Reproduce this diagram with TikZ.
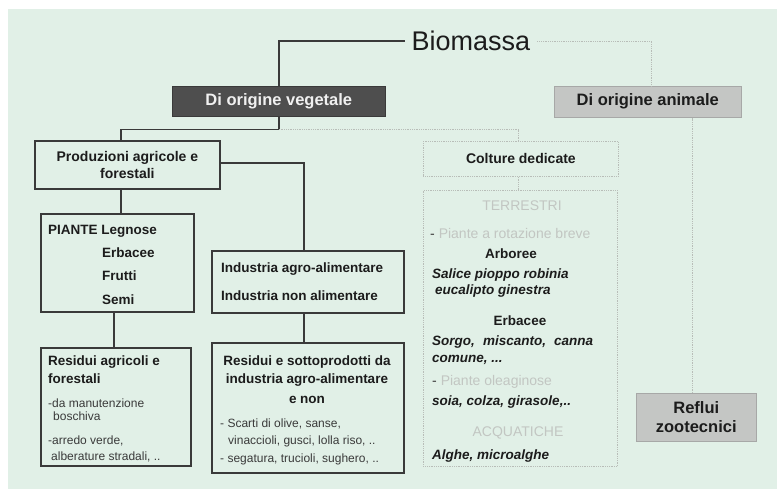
\documentclass[tikz,border=0pt]{standalone}
\usepackage{fontspec}
\setmainfont{Liberation Sans}
\usetikzlibrary{calc}
\definecolor{bg}{HTML}{E1F0E7}
\definecolor{darkfill}{HTML}{4E4E4E}
\definecolor{lightfill}{HTML}{C4C6C4}
\definecolor{linec}{HTML}{3A3A3A}
\definecolor{faint}{HTML}{C2C6C2}
\definecolor{faintline}{HTML}{B8BDB8}
\definecolor{textc}{HTML}{1C1C1C}
\definecolor{smallc}{HTML}{3A3A3A}
\begin{document}
\begin{tikzpicture}[x=1pt,y=-1pt,
  darkline/.style={draw=linec,line width=1.5pt},
  faintl/.style={draw=faintline,line width=0.8pt,densely dotted},
  sbox/.style={draw=linec,line width=1.8pt,inner sep=0pt,anchor=north west},
  fbox/.style={faintl,inner sep=0pt,anchor=north west},
  hb/.style={font=\fontsize{16.5}{19}\selectfont\bfseries},
  mb/.style={font=\fontsize{13.5}{17}\selectfont\bfseries,text=textc,inner sep=0pt},
  sm/.style={font=\fontsize{12}{14}\selectfont,text=smallc,inner sep=0pt,anchor=mid west},
  bi/.style={font=\fontsize{13.5}{17}\selectfont\bfseries\itshape,text=textc,inner sep=0pt,anchor=mid west},
  lt/.style={font=\fontsize{14}{16}\selectfont,text=faint,inner sep=0pt},
]
\useasboundingbox (0,0) rectangle (777,491);
\fill[white] (0,0) rectangle (777,491);
\fill[bg] (8,9) rectangle (777,489);

% title
\node[font=\fontsize{27}{30}\selectfont,text=textc,inner sep=7pt,anchor=mid] (bio) at (471,48) {Biomassa};

% boxes
\node[anchor=north west,fill=darkfill,draw=linec,line width=0.6pt,minimum width=213pt,minimum height=30pt,inner sep=0pt,hb,text=white!94!black] (veg) at (172,86) {Di origine vegetale};
\node[anchor=north west,fill=lightfill,draw=lightfill!85!black,line width=0.5pt,minimum width=187pt,minimum height=31pt,inner sep=0pt,hb,text=textc] (ani) at (554,86) {Di origine animale};
\node[sbox,minimum width=185pt,minimum height=48pt,align=center,font=\fontsize{14}{17}\selectfont\bfseries,text=textc] (prod) at (34,140) {Produzioni agricole e\\forestali};
\node[sbox,minimum width=153pt,minimum height=98pt] (piante) at (40,213) {};
\node[sbox,minimum width=150pt,minimum height=118pt] (resA) at (40,347) {};
\node[sbox,minimum width=192pt,minimum height=62pt] (ind) at (211,250) {};
\node[sbox,minimum width=192pt,minimum height=130pt] (res2) at (211,342) {};
\node[fbox,minimum width=195pt,minimum height=35pt,font=\fontsize{14}{17}\selectfont\bfseries,text=textc] (col) at (423,141) {Colture dedicate};
\node[fbox,minimum width=194pt,minimum height=276pt] (big) at (423,190) {};
\node[anchor=north west,fill=lightfill,draw=lightfill!85!black,line width=0.5pt,minimum width=120pt,minimum height=48pt,inner sep=0pt,align=center,font=\fontsize{16.5}{19}\selectfont\bfseries,text=textc] (reflui) at (636,393) {Reflui\\zootecnici};

% connectors
\draw[darkline] (bio.west) -| (veg.north);
\draw[faintl] (bio.east) -| ([xshift=3.5pt]ani.north);
\draw[darkline] (veg.south) -- ++(0,13) coordinate (vj) -| ([xshift=-6.5pt]prod.north);
\draw[faintl] (vj) -| ([xshift=-2.5pt]col.north);
\draw[darkline] ([yshift=2pt]prod.east) -| ([xshift=-4pt]ind.north);
\draw[darkline] ([xshift=-6.5pt]prod.south) -- ([xshift=3.5pt]piante.north);
\draw[darkline] ([xshift=-3.5pt]piante.south) -- ([xshift=-2pt]resA.north);
\draw[darkline] ([xshift=-4pt]ind.south) -- ([xshift=-4pt]res2.north);
\draw[faintl] ([xshift=-2.5pt]col.south) -- ([xshift=-2pt]big.north);
\draw[faintl] ([xshift=-3.5pt]reflui.north) -- ([xshift=-3.5pt]reflui.north |- ani.south);

% PIANTE box text
\node[mb,anchor=mid west] (p1) at (48,232) {PIANTE Legnose};
\node[mb,anchor=mid west] (p2) at (102,255) {Erbacee};
\node[mb,anchor=mid west] (p3) at (102,278) {Frutti};
\node[mb,anchor=mid west] (p4) at (102,302) {Semi};

% Residui agricoli box text
\node[mb,anchor=mid west] (ra1) at (48,363) {Residui agricoli e};
\node[mb,anchor=mid west] (ra2) at (48,381) {forestali};
\node[sm] (ra3) at (48,405) {-da manutenzione};
\node[sm] (ra4) at (53,418) {boschiva};
\node[sm] (ra5) at (48,442) {-arredo verde,};
\node[sm] (ra6) at (51,458) {alberature stradali, ..};

% Industria box text
\node[mb,anchor=mid west] (i1) at (221,270) {Industria agro-alimentare};
\node[mb,anchor=mid west] (i2) at (221,298) {Industria non alimentare};

% Residui e sottoprodotti text
\node[mb,anchor=mid] (r1) at (307,363) {Residui e sottoprodotti da};
\node[mb,anchor=mid] (r2) at (307,381) {industria agro-alimentare};
\node[mb,anchor=mid] (r3) at (307,401) {e non};
\node[sm] (r4) at (220,425) {- Scarti di olive, sanse,};
\node[sm] (r5) at (228,442) {vinaccioli, gusci, lolla riso, ..};
\node[sm] (r6) at (220,460) {- segatura, trucioli, sughero, ..};

% Colture dedicate big box text
\node[lt,anchor=mid] (c1) at (522,208) {TERRESTRI};
\node[lt,anchor=mid west] (c2) at (430,236) {\textcolor{smallc}{-} Piante a rotazione breve};
\node[mb,anchor=mid] (c3) at (511,256) {Arboree};
\node[bi] (c4) at (432,276) {Salice pioppo robinia};
\node[bi] (c5) at (435,292) {eucalipto ginestra};
\node[mb,anchor=mid] (c6) at (520,323) {Erbacee};
\node[bi] (c7) at (432,343) {Sorgo,\hspace{0.6em}miscanto,\hspace{0.6em}canna};
\node[bi] (c8) at (432,360) {comune, ...};
\node[lt,anchor=mid west] (c9) at (432,383) {\textcolor{smallc}{-} Piante oleaginose};
\node[bi] (c10) at (432,403) {soia, colza, girasole,..};
\node[lt,anchor=mid] (c11) at (518,434) {ACQUATICHE};
\node[bi] (c12) at (432,457) {Alghe, microalghe};
\end{tikzpicture}
\end{document}
